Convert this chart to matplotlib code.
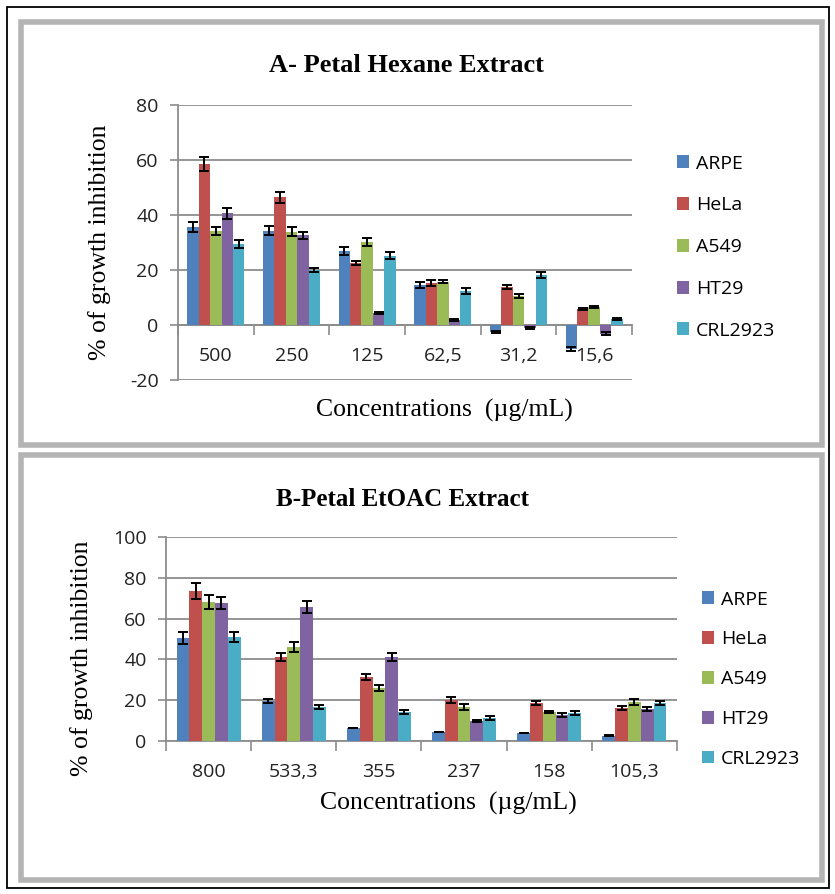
import numpy as np
import matplotlib
matplotlib.use("Agg")
import matplotlib.pyplot as plt
from matplotlib.patches import Rectangle

plt.rcParams["axes.unicode_minus"] = False

# cell lines (legend order)
cell_lines = ["ARPE", "HeLa", "A549", "HT29", "CRL2923"]
colors = ["#4F81BD", "#C0504D", "#9BBB59", "#8064A2", "#4BACC6"]

# A - petal hexane extract
conc_a = ["500", "250", "125", "62,5", "31,2", "15,6"]
hex_arpe = [35.6, 34.3, 26.9, 14.5, -2.5, -8.7]
hex_hela = [58.5, 46.5, 22.5, 15.2, 13.8, 5.8]
hex_a549 = [34.3, 33.9, 30.2, 15.7, 10.6, 6.5]
hex_ht29 = [40.7, 32.7, 4.4, 1.8, -1.1, -3.2]
hex_crl = [29.5, 20.0, 25.2, 12.4, 18.2, 2.2]
hex_err_arpe = [1.8, 1.6, 1.4, 1.0, 0.3, 0.6]
hex_err_hela = [2.5, 2.0, 0.8, 1.0, 0.8, 0.3]
hex_err_a549 = [1.5, 1.6, 1.5, 0.6, 0.8, 0.3]
hex_err_ht29 = [2.0, 1.3, 0.3, 0.3, 0.3, 0.6]
hex_err_crl = [1.5, 0.8, 1.2, 1.0, 1.2, 0.3]

# B - petal EtOAC extract
conc_b = ["800", "533,3", "355", "237", "158", "105,3"]
eto_arpe = [50.5, 19.6, 6.4, 4.4, 3.9, 2.5]
eto_hela = [73.5, 41.3, 31.4, 20.0, 18.6, 16.2]
eto_a549 = [68.0, 46.0, 26.0, 16.7, 14.2, 19.2]
eto_ht29 = [67.6, 65.7, 41.3, 9.8, 12.8, 15.7]
eto_crl = [51.0, 16.8, 14.2, 11.3, 13.9, 18.6]
eto_err_arpe = [2.8, 1.0, 0.2, 0.2, 0.2, 0.2]
eto_err_hela = [3.8, 2.0, 1.5, 1.5, 1.0, 1.0]
eto_err_a549 = [3.4, 2.5, 1.5, 1.5, 0.5, 1.5]
eto_err_ht29 = [3.0, 3.0, 2.0, 0.5, 1.0, 1.0]
eto_err_crl = [2.5, 1.0, 1.0, 1.0, 1.0, 1.0]

hex_vals = [hex_arpe, hex_hela, hex_a549, hex_ht29, hex_crl]
hex_errs = [hex_err_arpe, hex_err_hela, hex_err_a549, hex_err_ht29, hex_err_crl]
eto_vals = [eto_arpe, eto_hela, eto_a549, eto_ht29, eto_crl]
eto_errs = [eto_err_arpe, eto_err_hela, eto_err_a549, eto_err_ht29, eto_err_crl]

GRID = "#8C8C8C"
SERIF = "Liberation Serif"
SANS = "Open Sans"
TICK_FS = 14

fig = plt.figure(figsize=(8.35, 8.94), dpi=100)
W, H = 835, 894


def px_axes(x0, y0, x1, y1):
    # pixel box (top-left origin) -> axes
    return fig.add_axes([x0 / W, 1 - y1 / H, (x1 - x0) / W, (y1 - y0) / H])


def bar_panel(ax, cats, vals, errs, ylim, yticks):
    n = len(cats)
    x = np.arange(n)
    w = 0.15
    for i, (v, e) in enumerate(zip(vals, errs)):
        ax.bar(x + (i - 2) * w, v, w, color=colors[i], label=cell_lines[i],
               yerr=e, capsize=3.6, zorder=3,
               error_kw=dict(elinewidth=1.4, capthick=1.4, ecolor="black", zorder=4))
    ax.set_xlim(-0.5, n - 0.5)
    ax.set_ylim(*ylim)
    ax.set_yticks(yticks)
    ax.yaxis.grid(True, color=GRID, linewidth=1.3, zorder=0)
    ax.set_axisbelow(True)
    for s in ["top", "right"]:
        ax.spines[s].set_visible(False)
    ax.spines["left"].set_color(GRID)
    ax.spines["left"].set_linewidth(1.3)
    ax.spines["bottom"].set_position(("data", 0))
    ax.spines["bottom"].set_color(GRID)
    ax.spines["bottom"].set_linewidth(1.3)
    ax.set_xticks(x)
    ax.set_xticklabels(cats, fontfamily=SANS, fontsize=TICK_FS, color="#222222")
    ax.set_xticks(np.arange(n + 1) - 0.5, minor=True)
    ax.tick_params(axis="x", which="major", length=0, pad=16)
    ax.tick_params(axis="x", which="minor", length=7, width=1.2, color=GRID, direction="out")
    ax.tick_params(axis="y", length=6, width=1.2, color=GRID, direction="out", pad=8)
    for t in ax.get_yticklabels():
        t.set_fontfamily(SANS)
        t.set_fontsize(TICK_FS)
        t.set_color("#222222")


def add_legend(ax, x, y, spacing):
    ax.legend(loc="upper left", bbox_to_anchor=(x / W, 1 - y / H), bbox_transform=fig.transFigure,
              frameon=False, prop={"family": SANS, "size": TICK_FS}, labelspacing=spacing,
              handlelength=0.65, handleheight=0.65, handletextpad=0.35, borderpad=0)


# panel frames
fig.add_artist(Rectangle((7 / W, 1 - 888 / H), 822 / W, 881 / H, transform=fig.transFigure,
                         fill=False, edgecolor="black", linewidth=1.3))
fig.add_artist(Rectangle((21 / W, 1 - 445 / H), 801 / W, 423 / H, transform=fig.transFigure,
                         fill=False, edgecolor="#B4B4B4", linewidth=4))
fig.add_artist(Rectangle((21 / W, 1 - 880 / H), 801 / W, 425 / H, transform=fig.transFigure,
                         fill=False, edgecolor="#B4B4B4", linewidth=4))

# A
ax1 = px_axes(178, 105, 632, 380)
bar_panel(ax1, conc_a, hex_vals, hex_errs, (-20, 80), [-20, 0, 20, 40, 60, 80])
add_legend(ax1, 667, 145, 1.22)
fig.text(406 / W, 1 - 66 / H, "A- Petal Hexane Extract", ha="center", va="center",
         fontfamily=SERIF, fontweight="bold", fontsize=19)
fig.text(100 / W, 1 - 242 / H, "% of growth inhibition", ha="center", va="center",
         rotation=90, fontfamily=SERIF, fontsize=18.5)
fig.text(444 / W, 1 - 410 / H, "Concentrations  (\u00b5g/mL)", ha="center", va="center",
         fontfamily=SERIF, fontsize=18.5)

# B
ax2 = px_axes(166, 537, 677, 741)
bar_panel(ax2, conc_b, eto_vals, eto_errs, (0, 100), [0, 20, 40, 60, 80, 100])
add_legend(ax2, 692, 581, 1.12)
fig.text(402 / W, 1 - 499 / H, "B-Petal EtOAC Extract", ha="center", va="center",
         fontfamily=SERIF, fontweight="bold", fontsize=18)
fig.text(82 / W, 1 - 658 / H, "% of growth inhibition", ha="center", va="center",
         rotation=90, fontfamily=SERIF, fontsize=18.5)
fig.text(448 / W, 1 - 803 / H, "Concentrations  (\u00b5g/mL)", ha="center", va="center",
         fontfamily=SERIF, fontsize=18.5)

fig.savefig("out.png", dpi=100)
